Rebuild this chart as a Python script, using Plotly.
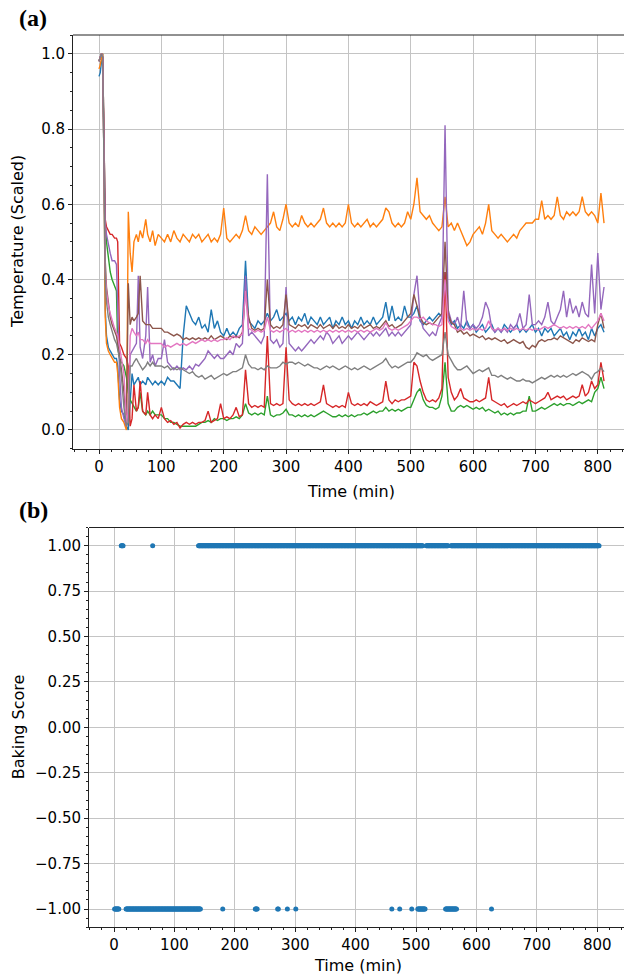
import plotly.graph_objects as go

W, H = 624, 975

# ---------------- Panel (a): scaled temperatures ----------------
time_early = [0, 2, 4, 6, 8, 10, 12, 15, 18, 21, 25, 28, 30, 33, 36, 40, 44, 47, 50, 53, 56,
              60, 63, 66, 70, 75, 78, 82, 86, 90, 95]
time_min = time_early + list(range(100, 811, 5))

blue = [0.94, 0.95, 0.98, 1.00, 0.70, 0.32, 0.25, 0.22, 0.21, 0.20, 0.19, 0.19, 0.17, 0.08, 0.05, 0.04, 0.01, 0.00, 0.08, 0.15, 0.12, 0.13, 0.14, 0.12, 0.13, 0.12, 0.14, 0.13, 0.12, 0.13, 0.12,
        0.13, 0.12, 0.14, 0.13, 0.13, 0.12, 0.11, 0.25, 0.33, 0.31, 0.29, 0.28, 0.30, 0.27, 0.28, 0.26, 0.32, 0.27, 0.29, 0.26,
        0.25, 0.27, 0.25, 0.26, 0.25, 0.27, 0.28, 0.45, 0.29, 0.28, 0.27, 0.29, 0.28, 0.29, 0.31, 0.29, 0.30, 0.32, 0.29, 0.30,
        0.31, 0.29, 0.30, 0.28, 0.30, 0.29, 0.31, 0.28, 0.30, 0.29, 0.28, 0.30, 0.28, 0.29, 0.30, 0.27, 0.29, 0.28, 0.30, 0.28,
        0.29, 0.27, 0.29, 0.28, 0.30, 0.28, 0.29, 0.28, 0.30, 0.28, 0.29, 0.30, 0.34, 0.29, 0.33, 0.29, 0.30, 0.29, 0.33, 0.30,
        0.30, 0.31, 0.33, 0.29, 0.28, 0.29, 0.30, 0.29, 0.30, 0.31, 0.30, 0.42, 0.30, 0.28, 0.29, 0.27, 0.28, 0.27, 0.29, 0.27,
        0.28, 0.26, 0.27, 0.28, 0.26, 0.27, 0.28, 0.26, 0.27, 0.26, 0.28, 0.27, 0.26, 0.27, 0.28, 0.26, 0.27, 0.26, 0.27, 0.28,
        0.26, 0.27, 0.25, 0.27, 0.26, 0.27, 0.25, 0.26, 0.27, 0.25, 0.26, 0.24, 0.26, 0.25, 0.27, 0.25, 0.26, 0.24, 0.27, 0.25,
        0.27, 0.28, 0.26]

orange = [0.96, 0.97, 0.99, 1.00, 0.70, 0.30, 0.23, 0.21, 0.20, 0.19, 0.18, 0.18, 0.15, 0.06, 0.03, 0.02, 0.00, 0.58, 0.47, 0.42, 0.50, 0.52, 0.50, 0.53, 0.51, 0.56, 0.52, 0.50, 0.53, 0.49, 0.52,
          0.51, 0.50, 0.52, 0.50, 0.53, 0.51, 0.50, 0.52, 0.51, 0.50, 0.52, 0.51, 0.52, 0.50, 0.51, 0.52, 0.50, 0.51, 0.50, 0.52,
          0.59, 0.51, 0.50, 0.51, 0.52, 0.51, 0.53, 0.57, 0.53, 0.52, 0.54, 0.53, 0.52, 0.53, 0.54, 0.55, 0.58, 0.54, 0.53, 0.56,
          0.60, 0.55, 0.54, 0.55, 0.54, 0.57, 0.55, 0.54, 0.55, 0.54, 0.55, 0.56, 0.59, 0.55, 0.54, 0.55, 0.54, 0.55, 0.54, 0.55,
          0.60, 0.55, 0.54, 0.55, 0.54, 0.55, 0.56, 0.54, 0.55, 0.54, 0.55, 0.56, 0.59, 0.58, 0.55, 0.54, 0.55, 0.54, 0.55, 0.58,
          0.56, 0.60, 0.67, 0.58, 0.57, 0.56, 0.57, 0.55, 0.54, 0.53, 0.54, 0.62, 0.54, 0.55, 0.53, 0.55, 0.53, 0.51, 0.49, 0.50,
          0.52, 0.53, 0.54, 0.52, 0.55, 0.60, 0.53, 0.52, 0.51, 0.52, 0.51, 0.50, 0.51, 0.52, 0.51, 0.53, 0.54, 0.55, 0.55, 0.55,
          0.56, 0.56, 0.61, 0.56, 0.57, 0.56, 0.57, 0.62, 0.57, 0.56, 0.58, 0.57, 0.58, 0.57, 0.58, 0.62, 0.58, 0.57, 0.58, 0.57,
          0.55, 0.63, 0.55]

green = [0.98, 0.99, 1.00, 0.99, 0.75, 0.55, 0.50, 0.46, 0.42, 0.40, 0.38, 0.37, 0.22, 0.19, 0.18, 0.17, 0.14, 0.10, 0.08, 0.07, 0.06, 0.05, 0.06, 0.10, 0.05, 0.04, 0.05, 0.04, 0.05, 0.04, 0.04,
         0.04, 0.03, 0.03, 0.02, 0.02, 0.015, 0.01, 0.01, 0.01, 0.01, 0.01, 0.01, 0.015, 0.02, 0.02, 0.025, 0.02, 0.03, 0.025, 0.03,
         0.03, 0.025, 0.03, 0.03, 0.035, 0.03, 0.04, 0.07, 0.045, 0.04, 0.045, 0.04, 0.045, 0.04, 0.09, 0.04, 0.035, 0.04, 0.04, 0.045,
         0.055, 0.04, 0.04, 0.035, 0.04, 0.035, 0.04, 0.035, 0.04, 0.035, 0.04, 0.045, 0.05, 0.045, 0.04, 0.035, 0.035, 0.04, 0.035, 0.04,
         0.035, 0.04, 0.035, 0.04, 0.04, 0.045, 0.04, 0.045, 0.05, 0.045, 0.05, 0.05, 0.06, 0.05, 0.055, 0.05, 0.055, 0.05, 0.055, 0.06,
         0.06, 0.08, 0.10, 0.11, 0.08, 0.065, 0.06, 0.06, 0.055, 0.06, 0.09, 0.18, 0.07, 0.05, 0.05, 0.06, 0.065, 0.06, 0.065, 0.06,
         0.055, 0.06, 0.055, 0.06, 0.05, 0.055, 0.05, 0.045, 0.05, 0.04, 0.045, 0.04, 0.045, 0.04, 0.045, 0.045, 0.05, 0.05, 0.09, 0.05,
         0.05, 0.055, 0.06, 0.055, 0.06, 0.065, 0.07, 0.065, 0.07, 0.065, 0.07, 0.07, 0.065, 0.07, 0.075, 0.07, 0.075, 0.08, 0.075, 0.10,
         0.11, 0.14, 0.11]

red = [0.98, 0.99, 1.00, 0.99, 0.78, 0.56, 0.54, 0.53, 0.52, 0.52, 0.51, 0.51, 0.50, 0.23, 0.22, 0.20, 0.19, 0.17, 0.01, 0.03, 0.12, 0.05, 0.06, 0.13, 0.05, 0.04, 0.10, 0.04, 0.03, 0.04, 0.03,
       0.06, 0.03, 0.02, 0.025, 0.015, 0.02, 0.005, 0.015, 0.02, 0.015, 0.02, 0.015, 0.02, 0.02, 0.025, 0.05, 0.02, 0.025, 0.03, 0.07,
       0.03, 0.035, 0.03, 0.04, 0.06, 0.035, 0.04, 0.16, 0.07, 0.06, 0.065, 0.06, 0.065, 0.06, 0.25, 0.07, 0.065, 0.07, 0.065, 0.07,
       0.22, 0.08, 0.07, 0.065, 0.07, 0.065, 0.07, 0.065, 0.07, 0.065, 0.07, 0.075, 0.12, 0.07, 0.065, 0.06, 0.065, 0.06, 0.065, 0.06,
       0.10, 0.07, 0.065, 0.07, 0.065, 0.07, 0.065, 0.075, 0.07, 0.065, 0.07, 0.075, 0.13, 0.08, 0.07, 0.08, 0.075, 0.08, 0.08, 0.085,
       0.09, 0.18, 0.17, 0.13, 0.10, 0.08, 0.075, 0.08, 0.075, 0.085, 0.11, 0.42, 0.14, 0.10, 0.08, 0.09, 0.11, 0.085, 0.08, 0.075,
       0.075, 0.08, 0.075, 0.08, 0.085, 0.14, 0.08, 0.075, 0.07, 0.065, 0.07, 0.06, 0.065, 0.07, 0.065, 0.07, 0.075, 0.07, 0.08, 0.075,
       0.07, 0.075, 0.08, 0.085, 0.10, 0.08, 0.085, 0.09, 0.085, 0.09, 0.08, 0.085, 0.09, 0.085, 0.09, 0.12, 0.09, 0.10, 0.13, 0.11,
       0.12, 0.18, 0.13]

purple = [0.98, 0.99, 1.00, 0.99, 0.78, 0.55, 0.52, 0.49, 0.47, 0.45, 0.45, 0.44, 0.30, 0.15, 0.06, 0.03, 0.01, 0.05, 0.20, 0.21, 0.22, 0.23, 0.41, 0.22, 0.19, 0.25, 0.38, 0.18, 0.20, 0.17, 0.19,
          0.19, 0.24, 0.18, 0.17, 0.16, 0.17, 0.16, 0.165, 0.16, 0.17, 0.16, 0.175, 0.17, 0.18, 0.19, 0.21, 0.20, 0.19, 0.20, 0.19,
          0.19, 0.20, 0.21, 0.20, 0.23, 0.22, 0.23, 0.41, 0.25, 0.26, 0.25, 0.24, 0.23, 0.25, 0.68, 0.24, 0.23, 0.24, 0.22, 0.23,
          0.38, 0.23, 0.22, 0.21, 0.22, 0.21, 0.22, 0.23, 0.24, 0.23, 0.24, 0.25, 0.24, 0.26, 0.25, 0.23, 0.24, 0.25, 0.23, 0.24,
          0.25, 0.24, 0.25, 0.26, 0.25, 0.24, 0.25, 0.26, 0.25, 0.26, 0.25, 0.26, 0.27, 0.25, 0.26, 0.25, 0.26, 0.25, 0.26, 0.27,
          0.28, 0.36, 0.41, 0.30, 0.27, 0.26, 0.25, 0.26, 0.25, 0.28, 0.30, 0.81, 0.32, 0.29, 0.28, 0.30, 0.27, 0.37, 0.28, 0.27,
          0.28, 0.27, 0.28, 0.30, 0.34, 0.32, 0.27, 0.26, 0.27, 0.26, 0.27, 0.26, 0.28, 0.27, 0.28, 0.31, 0.27, 0.28, 0.36, 0.28,
          0.28, 0.29, 0.28, 0.30, 0.34, 0.29, 0.28, 0.30, 0.32, 0.37, 0.30, 0.35, 0.31, 0.33, 0.30, 0.34, 0.31, 0.30, 0.44, 0.31,
          0.47, 0.32, 0.38]

brown = [0.98, 0.99, 1.00, 0.99, 0.74, 0.45, 0.38, 0.33, 0.30, 0.28, 0.26, 0.25, 0.23, 0.20, 0.16, 0.10, 0.02, 0.39, 0.28, 0.30, 0.29, 0.30, 0.31, 0.41, 0.29, 0.28, 0.28, 0.28, 0.27, 0.27, 0.27,
         0.27, 0.26, 0.26, 0.255, 0.25, 0.255, 0.25, 0.24, 0.245, 0.24, 0.245, 0.24, 0.245, 0.24, 0.245, 0.24, 0.25, 0.24, 0.245, 0.25,
         0.245, 0.24, 0.25, 0.245, 0.25, 0.245, 0.26, 0.37, 0.30, 0.27, 0.265, 0.27, 0.265, 0.27, 0.40, 0.28, 0.27, 0.275, 0.27, 0.28,
         0.36, 0.28, 0.275, 0.27, 0.28, 0.275, 0.28, 0.27, 0.28, 0.275, 0.27, 0.28, 0.27, 0.275, 0.28, 0.27, 0.28, 0.27, 0.275, 0.27,
         0.28, 0.27, 0.275, 0.27, 0.28, 0.27, 0.275, 0.28, 0.27, 0.275, 0.27, 0.28, 0.29, 0.275, 0.28, 0.27, 0.275, 0.28, 0.29, 0.30,
         0.31, 0.36, 0.33, 0.30, 0.285, 0.28, 0.285, 0.28, 0.29, 0.30, 0.31, 0.50, 0.31, 0.285, 0.28, 0.26, 0.265, 0.255, 0.26, 0.25,
         0.255, 0.25, 0.245, 0.25, 0.24, 0.245, 0.24, 0.245, 0.24, 0.235, 0.24, 0.23, 0.235, 0.24, 0.235, 0.23, 0.235, 0.22, 0.215, 0.225,
         0.22, 0.235, 0.24, 0.235, 0.24, 0.24, 0.245, 0.24, 0.25, 0.245, 0.24, 0.235, 0.23, 0.24, 0.235, 0.245, 0.24, 0.235, 0.24, 0.235,
         0.28, 0.31, 0.27]

pink = [0.98, 0.99, 1.00, 0.99, 0.74, 0.42, 0.37, 0.33, 0.31, 0.29, 0.27, 0.26, 0.25, 0.22, 0.19, 0.15, 0.02, 0.05, 0.25, 0.27, 0.26, 0.25, 0.26, 0.24, 0.24, 0.23, 0.24, 0.23, 0.23, 0.23, 0.23,
        0.23, 0.22, 0.225, 0.22, 0.225, 0.23, 0.225, 0.23, 0.225, 0.23, 0.235, 0.23, 0.235, 0.24, 0.235, 0.24, 0.235, 0.24, 0.235, 0.24,
        0.24, 0.245, 0.24, 0.25, 0.245, 0.25, 0.255, 0.37, 0.27, 0.265, 0.26, 0.265, 0.26, 0.265, 0.30, 0.265, 0.26, 0.265, 0.26, 0.265,
        0.27, 0.26, 0.265, 0.26, 0.265, 0.26, 0.265, 0.26, 0.265, 0.26, 0.265, 0.26, 0.265, 0.26, 0.265, 0.26, 0.265, 0.26, 0.265, 0.26,
        0.265, 0.26, 0.265, 0.26, 0.265, 0.26, 0.265, 0.26, 0.265, 0.27, 0.265, 0.27, 0.285, 0.27, 0.265, 0.27, 0.265, 0.27, 0.275, 0.28,
        0.29, 0.30, 0.30, 0.295, 0.30, 0.29, 0.285, 0.28, 0.28, 0.275, 0.28, 0.40, 0.29, 0.275, 0.27, 0.265, 0.27, 0.265, 0.27, 0.265,
        0.27, 0.265, 0.27, 0.265, 0.27, 0.29, 0.27, 0.265, 0.27, 0.265, 0.27, 0.265, 0.27, 0.265, 0.27, 0.265, 0.27, 0.265, 0.27, 0.265,
        0.27, 0.265, 0.27, 0.275, 0.27, 0.275, 0.28, 0.275, 0.27, 0.275, 0.27, 0.275, 0.27, 0.275, 0.27, 0.275, 0.27, 0.28, 0.27, 0.28,
        0.29, 0.31, 0.29]

gray = [0.98, 0.99, 1.00, 0.99, 0.72, 0.40, 0.34, 0.30, 0.28, 0.26, 0.24, 0.23, 0.21, 0.19, 0.14, 0.06, 0.01, 0.02, 0.17, 0.17, 0.18, 0.19, 0.18, 0.17, 0.16, 0.17, 0.18, 0.17, 0.18, 0.17, 0.17,
        0.17, 0.165, 0.17, 0.16, 0.165, 0.16, 0.165, 0.16, 0.155, 0.15, 0.155, 0.145, 0.14, 0.145, 0.135, 0.14, 0.145, 0.135, 0.14, 0.145,
        0.15, 0.145, 0.15, 0.155, 0.155, 0.16, 0.165, 0.20, 0.175, 0.165, 0.165, 0.16, 0.165, 0.16, 0.17, 0.165, 0.165, 0.165, 0.17, 0.18,
        0.175, 0.18, 0.18, 0.175, 0.18, 0.175, 0.17, 0.175, 0.17, 0.165, 0.165, 0.16, 0.165, 0.17, 0.165, 0.17, 0.165, 0.16, 0.165, 0.17,
        0.165, 0.16, 0.165, 0.16, 0.165, 0.17, 0.165, 0.16, 0.165, 0.17, 0.175, 0.18, 0.19, 0.175, 0.165, 0.17, 0.165, 0.17, 0.175, 0.18,
        0.18, 0.19, 0.205, 0.20, 0.195, 0.20, 0.19, 0.185, 0.19, 0.195, 0.20, 0.26, 0.20, 0.185, 0.17, 0.16, 0.16, 0.165, 0.17, 0.16,
        0.15, 0.155, 0.16, 0.155, 0.16, 0.165, 0.145, 0.145, 0.14, 0.145, 0.14, 0.135, 0.14, 0.135, 0.13, 0.13, 0.135, 0.13, 0.13, 0.125,
        0.13, 0.135, 0.14, 0.135, 0.14, 0.145, 0.14, 0.145, 0.14, 0.145, 0.14, 0.145, 0.15, 0.145, 0.15, 0.155, 0.15, 0.145, 0.135, 0.15,
        0.155, 0.165, 0.155]

series = [("blue", blue, "#1f77b4"), ("orange", orange, "#ff7f0e"), ("green", green, "#2ca02c"),
          ("red", red, "#d62728"), ("purple", purple, "#9467bd"), ("brown", brown, "#8c564b"),
          ("pink", pink, "#e377c2"), ("gray", gray, "#7f7f7f")]
for name, vals, _ in series:
    assert len(vals) == len(time_min), (name, len(vals), len(time_min))

# ---------------- Panel (b): baking score ----------------
score_pos_spans = [(12, 15), (64, 64), (140, 511), (517, 553), (558, 803)]
score_neg_spans = [(1, 8), (20, 143), (180, 180), (234, 237), (271, 272), (287, 287), (301, 301),
                   (460, 460), (473, 473), (493, 493), (503, 515), (549, 567), (625, 625)]

score_t, score_v = [], []
for a, b in score_neg_spans:
    for t in range(a, b + 1):
        score_t.append(t); score_v.append(-1.0)
for a, b in score_pos_spans:
    for t in range(a, b + 1):
        score_t.append(t); score_v.append(1.0)

# ---------------- layout geometry (pixels) ----------------
def px_x(p): return p / W
def px_y(p): return 1 - p / H

top_l, top_t, top_b = 73, 35, 448.75
bot_l, bot_t, bot_b = 89, 527.5, 927.2

fig = go.Figure()
for name, vals, col in series:
    fig.add_trace(go.Scatter(x=time_min, y=vals, mode="lines", name=name,
                             line=dict(color=col, width=1.4), xaxis="x", yaxis="y",
                             showlegend=False))

fig.add_trace(go.Scatter(x=score_t, y=score_v, mode="markers",
                         marker=dict(color="#1f77b4", size=5, line=dict(width=0)),
                         xaxis="x2", yaxis="y2", showlegend=False))

font_ticks = dict(family="DejaVu Sans", size=15, color="black")
common = dict(showgrid=True, gridcolor="#c4c4c4", gridwidth=1, zeroline=False,
              showline=True, linecolor="#222222", linewidth=1, ticks="outside",
              ticklen=4, tickwidth=1, tickcolor="#222222", tickfont=font_ticks,
              automargin=False)

x0_top = (top_l - 99) / 0.6235
x1_top = (W - 99) / 0.6235
x0_bot = (bot_l - 114) / 0.604
x1_bot = (W - 114) / 0.604

fig.update_layout(
    width=W, height=H, margin=dict(l=0, r=0, t=0, b=0),
    paper_bgcolor="white", plot_bgcolor="white",
    xaxis=dict(domain=[px_x(top_l), 1], range=[x0_top, x1_top], anchor="y",
               tickvals=[0, 100, 200, 300, 400, 500, 600, 700, 800],
               minor=dict(dtick=20, tick0=0, ticklen=2, ticks="outside", tickcolor="#222222", showgrid=False),
               **common),
    yaxis=dict(domain=[px_y(top_b), px_y(top_t)], range=[-0.05, 1.05], anchor="x",
               tickvals=[0.0, 0.2, 0.4, 0.6, 0.8, 1.0], tickformat=".1f",
               minor=dict(dtick=0.05, tick0=0, ticklen=2, ticks="outside", tickcolor="#222222", showgrid=False),
               **common),
    xaxis2=dict(domain=[px_x(bot_l), 1], range=[x0_bot, x1_bot], anchor="y2",
                tickvals=[0, 100, 200, 300, 400, 500, 600, 700, 800],
                minor=dict(dtick=20, tick0=0, ticklen=2, ticks="outside", tickcolor="#222222", showgrid=False),
                **common),
    yaxis2=dict(domain=[px_y(bot_b), px_y(bot_t)], range=[-1.1, 1.1], anchor="x2",
                tickvals=[-1.0, -0.75, -0.5, -0.25, 0.0, 0.25, 0.5, 0.75, 1.0], tickformat=".2f",
                minor=dict(dtick=0.05, tick0=0, ticklen=2, ticks="outside", tickcolor="#222222", showgrid=False),
                **common),
    shapes=[
        dict(type="line", xref="paper", yref="paper", x0=px_x(top_l), x1=1, y0=px_y(top_t), y1=px_y(top_t),
             line=dict(color="#222222", width=1)),
        dict(type="line", xref="paper", yref="paper", x0=px_x(bot_l), x1=1, y0=px_y(bot_t), y1=px_y(bot_t),
             line=dict(color="#222222", width=1)),
    ],
)

lab_font = dict(family="DejaVu Sans", size=16, color="black")
panel_font = dict(family="Liberation Serif", size=24, color="black")
ann = [
    dict(text="<b>(a)</b>", x=px_x(33), y=px_y(18), font=panel_font),
    dict(text="<b>(b)</b>", x=px_x(33), y=px_y(510), font=panel_font),
    dict(text="Temperature (Scaled)", x=px_x(18), y=px_y((top_t + top_b) / 2), font=lab_font, textangle=-90),
    dict(text="Time (min)", x=px_x(351), y=px_y(492), font=lab_font),
    dict(text="Baking Score", x=px_x(18), y=px_y((bot_t + bot_b) / 2), font=lab_font, textangle=-90),
    dict(text="Time (min)", x=px_x(358), y=px_y(965), font=lab_font),
]
for a in ann:
    fig.add_annotation(xref="paper", yref="paper", showarrow=False, xanchor="center", yanchor="middle", **a)

fig.write_html("out.html", config={"displayModeBar": False},
               post_script="document.body.style.margin='0';document.body.style.overflow='hidden';")
